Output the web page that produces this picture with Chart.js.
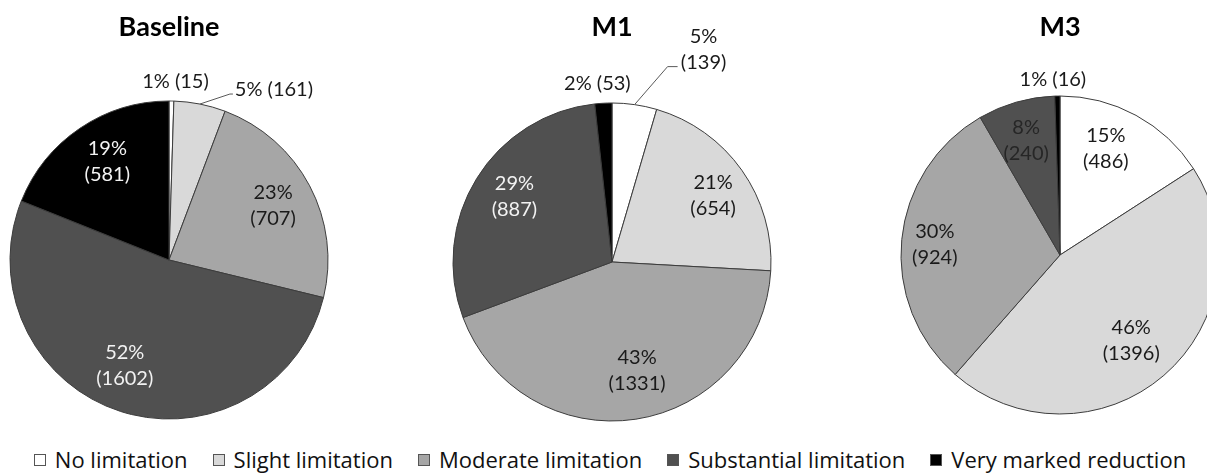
<!DOCTYPE html>
<html>
<head>
<meta charset="utf-8">
<script src="https://cdn.jsdelivr.net/npm/chart.js@4/dist/chart.umd.min.js"></script>
<style>
  html, body { margin: 0; padding: 0; background: #fff; width: 1207px; height: 473px; overflow: hidden; position: relative; }
  canvas { position: absolute; top: 0; }
  #legend { position: absolute; left: 0; top: 447px; width: 1220px; display: flex; justify-content: center; gap: 25px;
            font-family: 'Open Sans', sans-serif; font-size: 22px; color: #111; line-height: 24px; white-space: nowrap; }
  #legend .item { display: flex; align-items: center; }
  #legend .box { width: 10px; height: 10px; border: 1px solid #555; margin-right: 9px; margin-top: 2px; }
</style>
</head>
<body>
<canvas id="pieBaseline" width="340" height="440" style="left:-1px"></canvas>
<canvas id="pieM1" width="360" height="440" style="left:432px"></canvas>
<canvas id="pieM3" width="400" height="440" style="left:860px"></canvas>
<div id="legend"></div>
<script>
// Categories and series
const categories = ['No limitation', 'Slight limitation', 'Moderate limitation', 'Substantial limitation', 'Very marked reduction'];
const panelTitles = ['Baseline', 'M1', 'M3'];
const baselineCounts = [15, 161, 707, 1602, 581];
const m1Counts = [139, 654, 1331, 887, 53];
const m3Counts = [486, 1396, 924, 240, 16];
const baselinePct = [1, 5, 23, 52, 19];
const m1Pct = [5, 21, 43, 29, 2];
const m3Pct = [15, 46, 30, 8, 1];

const sliceColors = ['#ffffff', '#d9d9d9', '#a6a6a6', '#505050', '#000000'];
const LIGHT = '#f2f2f2', DARK = '#1a1a1a';

// Label placement per slice: inside labels sit at a fraction of the radius along the slice's mid angle;
// outside labels are offset from the slice's rim point, optionally with a leader line.
const baselinePlace = [
  { out: true, one: true, dx: 4, dy: -19, color: DARK },
  { out: true, one: true, dx: 74, dy: -14, leader: [[30, -10], [33, -10]], color: DARK },
  { r: 0.74, color: DARK },
  { r: 0.72, da: 5, color: LIGHT },
  { r: 0.73, da: 2, color: LIGHT }
];
const m1Place = [
  { out: true, dx: 69, dy: -55, leader: [[33, -38], [43, -38]], color: DARK },
  { r: 0.76, da: 2, color: DARK },
  { r: 0.70, da: -4.4, color: DARK },
  { r: 0.74, da: 2.3, color: LIGHT },
  { out: true, one: true, dx: -6, dy: -20, color: DARK }
];
const m3Place = [
  { r: 0.73, da: -5.3, color: DARK },
  { r: 0.70, da: 1, color: DARK },
  { r: 0.79, da: -1, color: DARK },
  { r: 0.75, da: -0.5, color: '#262626' },
  { out: true, one: true, dx: -4.5, dy: -16, color: DARK }
];

const sliceLabels = {
  id: 'sliceLabels',
  afterDatasetsDraw(chart, args, opts) {
    const ctx = chart.ctx;
    const meta = chart.getDatasetMeta(0);
    const values = chart.data.datasets[0].data;
    ctx.save();
    ctx.font = '20px Lato, sans-serif';
    ctx.textAlign = 'center';
    ctx.textBaseline = 'middle';
    meta.data.forEach((arc, i) => {
      const p = opts.place[i];
      const { x, y, startAngle, endAngle, outerRadius } = arc.getProps(['x', 'y', 'startAngle', 'endAngle', 'outerRadius'], true);
      const lines = p.one ? [opts.pct[i] + '% (' + values[i] + ')'] : [opts.pct[i] + '%', '(' + values[i] + ')'];
      let cx, cy;
      if (p.out) {
        const mid = (startAngle + endAngle) / 2;
        const ax = x + Math.cos(mid) * outerRadius, ay = y + Math.sin(mid) * outerRadius;
        if (p.leader) {
          ctx.strokeStyle = '#595959';
          ctx.lineWidth = 1;
          ctx.beginPath();
          ctx.moveTo(ax, ay);
          p.leader.forEach(pt => ctx.lineTo(ax + pt[0], ay + pt[1]));
          ctx.stroke();
        }
        cx = ax + p.dx; cy = ay + p.dy;
      } else {
        const mid = (startAngle + endAngle) / 2 + (p.da || 0) * Math.PI / 180;
        cx = x + Math.cos(mid) * outerRadius * p.r;
        cy = y + Math.sin(mid) * outerRadius * p.r;
      }
      ctx.fillStyle = p.color;
      const lh = 26;
      lines.forEach((t, k) => ctx.fillText(t, cx, cy + (k - (lines.length - 1) / 2) * lh));
    });
    ctx.restore();
  }
};

function makePie(id, title, counts, pct, place, titleGap) {
  return new Chart(document.getElementById(id), {
    type: 'pie',
    data: {
      labels: categories,
      datasets: [{
        data: counts,
        backgroundColor: sliceColors,
        borderColor: '#3c3c3c',
        borderWidth: 1
      }]
    },
    options: {
      responsive: false,
      animation: false,
      events: [],
      radius: 159,
      layout: { padding: 0 },
      plugins: {
        legend: { display: false },
        tooltip: { enabled: false },
        title: {
          display: true,
          text: title,
          color: '#000',
          font: { family: 'Lato', size: 27, weight: 'bold', lineHeight: 1.2 },
          padding: { top: 11, bottom: titleGap }
        },
        sliceLabels: { pct: pct, place: place }
      }
    },
    plugins: [sliceLabels]
  });
}

makePie('pieBaseline', panelTitles[0], baselineCounts, baselinePct, baselinePlace, 36.6);
makePie('pieM1', panelTitles[1], m1Counts, m1Pct, m1Place, 40.6);
makePie('pieM3', panelTitles[2], m3Counts, m3Pct, m3Place, 26.6);

// Shared legend
const legend = document.getElementById('legend');
categories.forEach((name, i) => {
  const item = document.createElement('div');
  item.className = 'item';
  const box = document.createElement('span');
  box.className = 'box';
  box.style.background = sliceColors[i];
  const txt = document.createElement('span');
  txt.textContent = name;
  item.appendChild(box);
  item.appendChild(txt);
  legend.appendChild(item);
});
</script>
</body>
</html>
